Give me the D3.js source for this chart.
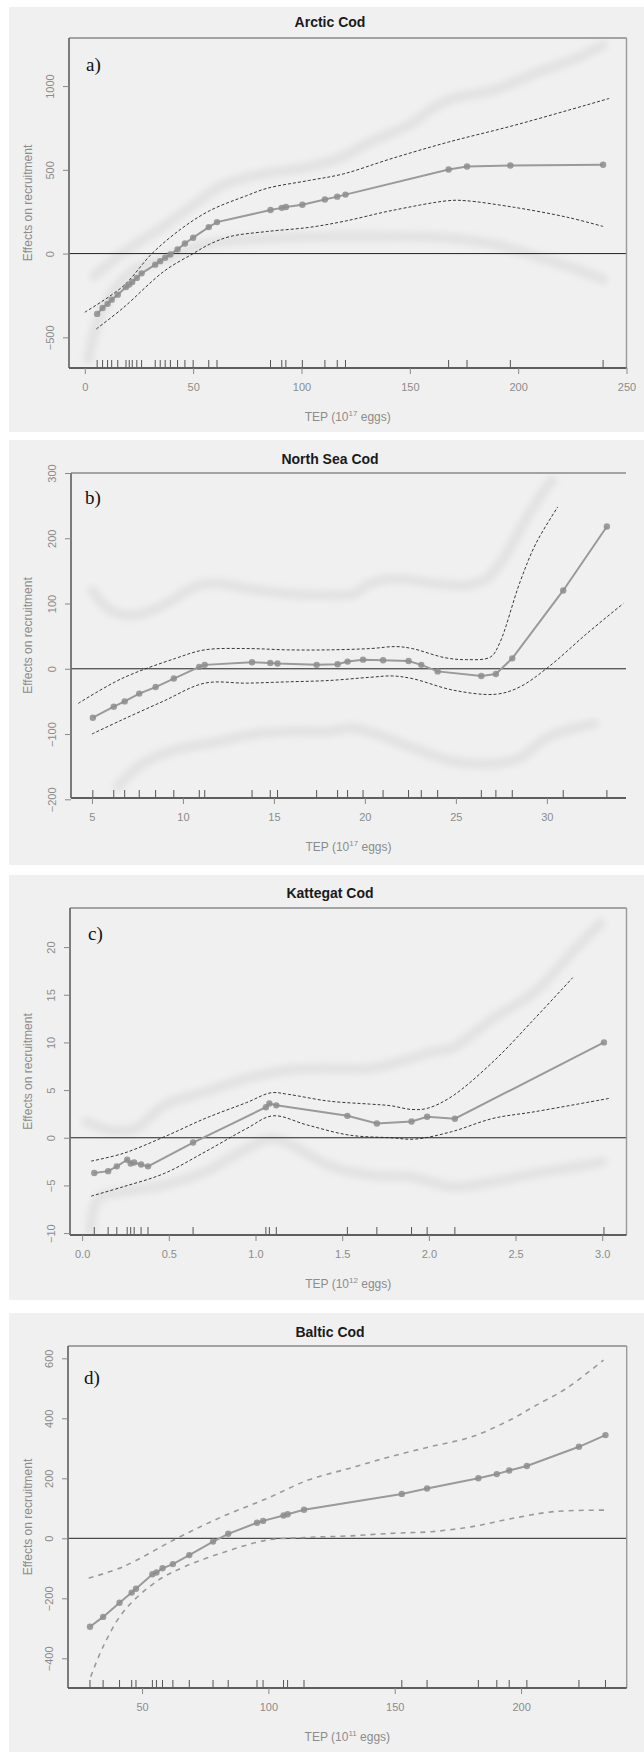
<!DOCTYPE html>
<html><head><meta charset="utf-8">
<script src="https://cdn.jsdelivr.net/npm/d3@7"></script>
<style>body{margin:0;background:#fff}svg{display:block}</style>
</head><body>
<script>
// ---------- Panel a: Arctic Cod ----------
const arcticX = [5.7, 8.2, 10.5, 12.4, 15.2, 19, 20.5, 21.9, 24, 26.2, 32.5, 34.8, 37.1, 39.5, 42.8, 46.2, 50, 57.2, 61, 85.7, 90.9, 92.8, 100.4, 110.8, 116.5, 120.3, 167.9, 176.4, 196.4, 239.2];
const arcticFit = [-360, -325, -300, -275, -245, -200, -185, -170, -145, -118, -66, -45, -25, -5, 25, 60, 95, 158, 188, 260, 273, 278, 292, 323, 340, 352, 502, 520, 526, 530];
const arcticUpperX = [0, 17.7, 31, 44.3, 57.6, 74.7, 84.2, 103.2, 119.4, 141.3, 167.9, 198.3, 242];
const arcticUpperY = [-350, -194, 0, 146, 256, 346, 390, 436, 476, 566, 666, 766, 926];
const arcticLowerX = [5.3, 17.7, 36.7, 50, 57.6, 67.1, 84.2, 103.2, 119.4, 141.3, 167.9, 175.5, 198.3, 223, 239.2];
const arcticLowerY = [-450, -324, -104, 0, 56, 102, 132, 156, 192, 256, 316, 316, 276, 216, 162];
const arcticGhostUpX = [4.4, 17.7, 36.7, 51.9, 63.3, 82.3, 103.2, 118.4, 131.7, 150.8, 160.3, 169.8, 188.8, 207.8, 226.8, 239.2];
const arcticGhostUpY = [-134, 6, 166, 306, 406, 476, 516, 576, 666, 776, 866, 926, 976, 1076, 1166, 1246];
const arcticGhostLowX = [1.5, 6.3, 13.9, 23.4, 40.5, 55.7, 74.7, 93.7, 112.7, 131.7, 150.8, 169.8, 188.8, 207.8, 226.8, 239.2];
const arcticGhostLowY = [-634, -394, -214, -94, -14, 56, 82, 96, 102, 102, 102, 90, 56, -14, -94, -154];
const arcticXTicks = [0, 50, 100, 150, 200, 250];
const arcticYTicks = [-500, 0, 500, 1000];

// ---------- Panel b: North Sea Cod ----------
const northX = [5.05, 6.2, 6.8, 7.6, 8.5, 9.5, 10.9, 11.2, 13.8, 14.8, 15.2, 17.35, 18.5, 19.05, 19.9, 21.0, 22.4, 23.1, 24.0, 26.4, 27.2, 28.1, 30.9, 33.3];
const northFit = [-75, -58, -50, -38, -28, -15, 3, 6, 10, 9, 8, 6, 7, 11, 14, 13, 12, 6, -4, -11, -8, 16, 120, 218];
const northUpperX = [4.25, 6.64, 9.6, 11.2, 13.5, 15.75, 18.0, 20.3, 21.7, 22.6, 24.4, 25.6, 26.9, 27.4, 28.5, 29.4, 30.6];
const northUpperY = [-53, -15, 16, 29, 31, 29, 29, 31, 34, 31, 17, 14, 18, 39, 131, 192, 248];
const northLowerX = [5.0, 6.6, 8.9, 11.2, 13.5, 15.75, 18.0, 20.3, 21.5, 22.6, 24.9, 27.2, 28.5, 30.1, 32.2, 34.2];
const northLowerY = [-100, -79, -50, -22, -22, -20, -18, -13, -11, -15, -33, -39, -28, 3, 54, 100];
const northGhostUpX = [5.0, 6.0, 7.3, 8.9, 10.7, 11.9, 13.5, 15.75, 18.0, 19.4, 20.3, 21.7, 23.7, 25.6, 26.7, 27.8, 28.7, 29.6, 30.3];
const northGhostUpY = [120, 90, 82, 97, 126, 131, 123, 115, 113, 115, 131, 138, 131, 128, 138, 177, 222, 263, 289];
const northGhostLowX = [6.4, 7.8, 9.6, 11.9, 13.5, 15.75, 18.0, 19.4, 21.5, 23.7, 24.9, 27.2, 28.5, 30.1, 32.6];
const northGhostLowY = [-181, -145, -124, -112, -102, -96, -96, -91, -109, -132, -142, -145, -137, -104, -84];
const northXTicks = [5, 10, 15, 20, 25, 30];
const northYTicks = [-200, -100, 0, 100, 200, 300];

// ---------- Panel c: Kattegat Cod ----------
const kattX = [0.07, 0.15, 0.2, 0.26, 0.28, 0.3, 0.34, 0.38, 0.64, 1.06, 1.08, 1.12, 1.53, 1.70, 1.90, 1.99, 2.15, 3.01];
const kattFit = [-3.7, -3.5, -3.0, -2.3, -2.7, -2.6, -2.8, -3.0, -0.5, 3.2, 3.6, 3.4, 2.3, 1.5, 1.7, 2.2, 2.0, 10.0];
const kattUpperX = [0.052, 0.237, 0.474, 0.71, 0.95, 1.09, 1.19, 1.42, 1.66, 1.78, 1.90, 1.99, 2.13, 2.37, 2.61, 2.83];
const kattUpperY = [-2.45, -1.64, 0.1, 2.03, 3.7, 4.72, 4.55, 3.85, 3.53, 3.36, 2.97, 3.08, 4.3, 7.97, 12.5, 16.8];
const kattLowerX = [0.052, 0.237, 0.474, 0.71, 0.95, 1.10, 1.30, 1.54, 1.78, 1.92, 2.13, 2.37, 2.61, 3.04];
const kattLowerY = [-6.12, -5.14, -3.74, -1.47, 0.98, 2.3, 1.33, 0.28, 0, -0.14, 0.63, 2.03, 2.73, 4.13];
const kattGhostUpX = [0.024, 0.166, 0.308, 0.474, 0.71, 0.95, 1.19, 1.42, 1.66, 1.90, 2.02, 2.13, 2.37, 2.61, 2.85, 2.99];
const kattGhostUpY = [1.68, 0.8, 0.98, 3.43, 4.83, 6.22, 7.1, 7.27, 7.27, 8.32, 9.02, 9.37, 12.5, 15.3, 19.9, 22.5];
const kattGhostLowX = [0.047, 0.095, 0.237, 0.474, 0.71, 0.95, 1.09, 1.19, 1.42, 1.66, 1.90, 2.13, 2.37, 2.61, 2.85, 3.0];
const kattGhostLowY = [-9.69, -6.36, -5.66, -4.97, -3.57, -1.12, -0.07, -0.59, -2.87, -3.92, -4.09, -5.14, -4.62, -3.74, -3.04, -2.52];
const kattXTicks = [0, 0.5, 1, 1.5, 2, 2.5, 3];
const kattYTicks = [-10, -5, 0, 5, 10, 15, 20];

// ---------- Panel d: Baltic Cod ----------
const balticX = [29.4, 34.6, 41.1, 45.9, 47.6, 54.1, 55.7, 58.1, 62.2, 68.7, 78.1, 84.1, 95.5, 97.9, 106.0, 107.6, 114.1, 152.8, 162.8, 183.1, 190.4, 195.3, 202.3, 222.9, 233.4];
const balticFit = [-295, -262, -215, -181, -168, -120, -114, -100, -86, -56, -11, 15, 52, 58, 76, 80, 95, 148, 166, 200, 214, 226, 241, 305, 344];
const balticUpperX = [28.9, 42.7, 63.8, 81.7, 99.5, 115.7, 132.0, 148.2, 164.4, 180.7, 196.9, 205.0, 218.0, 232.6];
const balticUpperY = [-133, -94, 0, 72, 133, 194, 233, 272, 306, 339, 400, 439, 500, 594];
const balticLowerX = [29.7, 34.6, 42.7, 55.7, 67.0, 83.3, 99.5, 115.7, 132.0, 149.8, 164.4, 180.7, 196.9, 213.1, 234.3];
const balticLowerY = [-461, -361, -244, -144, -94, -44, -6, 3, 8, 17, 22, 39, 67, 89, 94];
const balticXTicks = [50, 100, 150, 200];
const balticYTicks = [-400, -200, 0, 200, 400, 600];

const panelTitles = ["Arctic Cod", "North Sea Cod", "Kattegat Cod", "Baltic Cod"];
const panelLetters = ["a)", "b)", "c)", "d)"];
const xUnitExp = ["17", "17", "12", "11"];
const yAxisTitle = "Effects on recruitment";

// ---------- layout ----------
const panels = [
  {bg:[9,7,635,425], f:{l:69,r:626.5,t:38,b:368}, xDom:[-7.3,250], yDom:[-683,1287], rightBorder:true,
   xs:arcticX, fit:arcticFit, up:[arcticUpperX,arcticUpperY], lo:[arcticLowerX,arcticLowerY],
   gu:[arcticGhostUpX,arcticGhostUpY], gl:[arcticGhostLowX,arcticGhostLowY],
   xt:arcticXTicks, yt:arcticYTicks, xf:d3.format("d"), ty:27, ly:71, lx:86, band:"black"},
  {bg:[9,440,635,425], f:{l:71,r:626,t:473,b:798}, xDom:[3.85,34.35], yDom:[-198,300], rightBorder:false,
   xs:northX, fit:northFit, up:[northUpperX,northUpperY], lo:[northLowerX,northLowerY],
   gu:[northGhostUpX,northGhostUpY], gl:[northGhostLowX,northGhostLowY],
   xt:northXTicks, yt:northYTicks, xf:d3.format("d"), ty:464, ly:504, lx:85, band:"black"},
  {bg:[9,875,635,425], f:{l:70,r:626.5,t:908,b:1235}, xDom:[-0.07,3.14], yDom:[-10.2,24.1], rightBorder:true,
   xs:kattX, fit:kattFit, up:[kattUpperX,kattUpperY], lo:[kattLowerX,kattLowerY],
   gu:[kattGhostUpX,kattGhostUpY], gl:[kattGhostLowX,kattGhostLowY],
   xt:kattXTicks, yt:kattYTicks, xf:d3.format(".1f"), ty:898, ly:940, lx:88, band:"black"},
  {bg:[9,1313,635,439], f:{l:68,r:626.7,t:1346,b:1688}, xDom:[20.7,241.8], yDom:[-499,641], rightBorder:true,
   xs:balticX, fit:balticFit, up:[balticUpperX,balticUpperY], lo:[balticLowerX,balticLowerY],
   gu:null, gl:null,
   xt:balticXTicks, yt:balticYTicks, xf:d3.format("d"), ty:1337, ly:1384, lx:84, band:"grey"}
];

const svg = d3.select("body").append("svg").attr("width",644).attr("height",1752)
  .style("font-family","'Liberation Sans', Arial, sans-serif");
const defs = svg.append("defs");
defs.append("filter").attr("id","ghostblur").attr("x","-10%").attr("y","-10%").attr("width","120%").attr("height","120%")
  .append("feGaussianBlur").attr("stdDeviation",3);
defs.append("filter").attr("id","soft").attr("x","-10%").attr("y","-10%").attr("width","120%").attr("height","120%")
  .append("feGaussianBlur").attr("stdDeviation",0.6);

const labelCol = "#8c8c8c";

panels.forEach((p,i) => {
  const g = svg.append("g");
  g.append("rect").attr("x",p.bg[0]).attr("y",p.bg[1]).attr("width",p.bg[2]).attr("height",p.bg[3]).attr("fill","#f0f0f0");
  const x = d3.scaleLinear().domain(p.xDom).range([p.f.l,p.f.r]);
  const y = d3.scaleLinear().domain(p.yDom).range([p.f.b,p.f.t]);

  defs.append("clipPath").attr("id","clip"+i).append("rect")
    .attr("x",p.f.l).attr("y",p.f.t).attr("width",p.f.r-p.f.l).attr("height",p.f.b-p.f.t);
  const plot = g.append("g").attr("clip-path",`url(#clip${i})`);

  const smooth = d3.line().x(d=>x(d[0])).y(d=>y(d[1])).curve(d3.curveCatmullRom.alpha(0.5));
  const straight = d3.line().x(d=>x(d[0])).y(d=>y(d[1]));

  // pale ghost bands
  [p.gu,p.gl].forEach(gh => {
    if (!gh) return;
    plot.append("path").datum(d3.zip(gh[0],gh[1])).attr("d",smooth)
      .attr("fill","none").attr("stroke","#e2e2e2").attr("stroke-width",10)
      .attr("stroke-linecap","round").attr("stroke-linejoin","round")
      .attr("filter","url(#ghostblur)");
  });

  // zero line
  plot.append("line").attr("x1",p.f.l).attr("x2",p.f.r).attr("y1",y(0)).attr("y2",y(0))
    .attr("stroke","#222").attr("stroke-width",1);

  // confidence bands
  [p.up,p.lo].forEach(b => {
    plot.append("path").datum(d3.zip(b[0],b[1])).attr("d",smooth)
      .attr("fill","none")
      .attr("stroke", p.band==="black" ? "#222" : "#9a9a9a")
      .attr("stroke-width", p.band==="black" ? 0.9 : 1.6)
      .attr("stroke-dasharray", p.band==="black" ? "3,2" : "5,5");
  });

  // fitted line + points
  const pts = d3.zip(p.xs,p.fit);
  plot.append("path").datum(pts).attr("d",straight)
    .attr("fill","none").attr("stroke","#9a9a9a").attr("stroke-width",2).attr("filter","url(#soft)");
  plot.selectAll("circle.pt").data(pts).join("circle").attr("class","pt")
    .attr("cx",d=>x(d[0])).attr("cy",d=>y(d[1])).attr("r",3.2)
    .attr("fill","#8d8d8d").attr("fill-opacity",0.85).attr("filter","url(#soft)");

  // rug
  g.selectAll("line.rug").data(p.xs).join("line").attr("class","rug")
    .attr("x1",d=>x(d)).attr("x2",d=>x(d)).attr("y1",p.f.b).attr("y2",p.f.b-8)
    .attr("stroke","#555").attr("stroke-width",1);

  // frame: top (and right) lighter, left/bottom axis lines darker
  g.append("line").attr("x1",p.f.l).attr("x2",p.f.r).attr("y1",p.f.t).attr("y2",p.f.t)
    .attr("stroke","#8a8a8a").attr("stroke-width",1.6);
  if (p.rightBorder) g.append("line").attr("x1",p.f.r).attr("x2",p.f.r).attr("y1",p.f.t).attr("y2",p.f.b)
    .attr("stroke","#9a9a9a").attr("stroke-width",1.4);
  g.append("line").attr("x1",p.f.l).attr("x2",p.f.l).attr("y1",p.f.t).attr("y2",p.f.b)
    .attr("stroke","#6e6e6e").attr("stroke-width",1.8);
  g.append("line").attr("x1",p.f.l).attr("x2",p.f.r).attr("y1",p.f.b).attr("y2",p.f.b)
    .attr("stroke","#5e5e5e").attr("stroke-width",1.8);

  // x axis
  const xa = g.append("g").attr("transform",`translate(0,${p.f.b})`)
    .call(d3.axisBottom(x).tickValues(p.xt).tickSize(6).tickPadding(9).tickFormat(p.xf));
  xa.select(".domain").remove();
  xa.selectAll(".tick line").attr("stroke","#888");
  xa.selectAll(".tick text").attr("fill",labelCol).attr("font-size",11)
    .attr("font-family","'Liberation Sans', Arial, sans-serif");

  // y axis
  const ya = g.append("g").attr("transform",`translate(${p.f.l},0)`)
    .call(d3.axisLeft(y).tickValues(p.yt).tickSize(6).tickFormat(d3.format("d")));
  ya.select(".domain").remove();
  ya.selectAll(".tick line").attr("stroke","#888");
  ya.selectAll(".tick text").attr("fill",labelCol).attr("font-size",11)
    .attr("font-family","'Liberation Sans', Arial, sans-serif")
    .attr("x",0).attr("dy",null).attr("text-anchor","middle")
    .attr("dominant-baseline","central")
    .attr("transform","translate(-19,0) rotate(-90)");

  // titles
  g.append("text").attr("x",330).attr("y",p.ty).attr("text-anchor","middle")
    .attr("font-weight","bold").attr("font-size",14).attr("fill","#1a1a1a").text(panelTitles[i]);
  g.append("text").attr("x",p.lx).attr("y",p.ly)
    .attr("font-family","'Liberation Serif', 'Times New Roman', serif").attr("font-size",19)
    .attr("fill","#111").text(panelLetters[i]);

  const cx = (p.f.l+p.f.r)/2;
  const xt = g.append("text").attr("x",cx).attr("y",p.f.b+53).attr("text-anchor","middle")
    .attr("font-size",12).attr("fill",labelCol);
  xt.append("tspan").text("TEP (10");
  xt.append("tspan").attr("font-size",8).attr("dy",-5).text(xUnitExp[i]);
  xt.append("tspan").attr("dy",5).text(" eggs)");

  const cy = (p.f.t+p.f.b)/2;
  g.append("text").attr("transform",`translate(32,${cy}) rotate(-90)`).attr("text-anchor","middle")
    .attr("font-size",12).attr("fill",labelCol).text(yAxisTitle);
});
</script>
</body></html>
